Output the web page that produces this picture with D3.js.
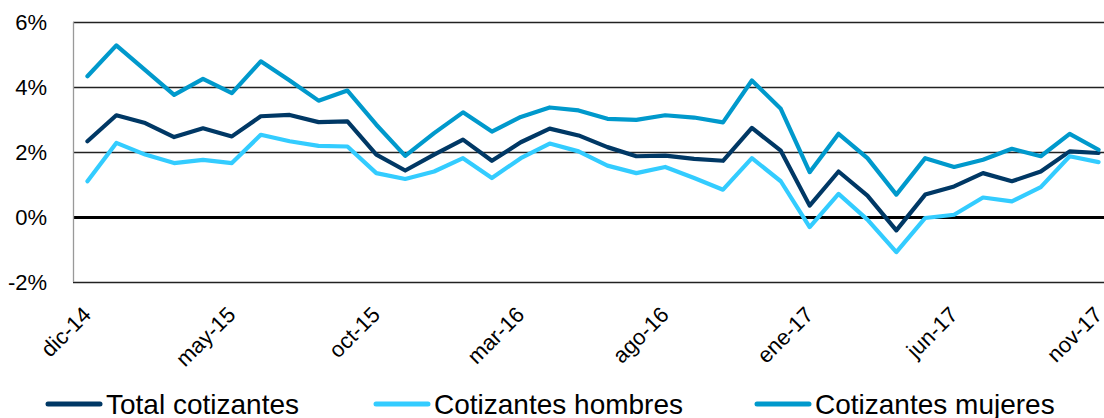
<!DOCTYPE html>
<html>
<head>
<meta charset="utf-8">
<script src="https://cdn.jsdelivr.net/npm/d3@7"></script>
<style>
  html, body { margin: 0; padding: 0; background: #fff; }
  svg { display: block; }
  text { font-family: "Liberation Sans", Arial, sans-serif; fill: #000; }
</style>
</head>
<body>
<svg id="chart" width="1104" height="418"></svg>
<script>
const months = [
  "dic-14","ene-15","feb-15","mar-15","abr-15","may-15","jun-15","jul-15","ago-15","sep-15","oct-15","nov-15",
  "dic-15","ene-16","feb-16","mar-16","abr-16","may-16","jun-16","jul-16","ago-16","sep-16","oct-16","nov-16",
  "dic-16","ene-17","feb-17","mar-17","abr-17","may-17","jun-17","jul-17","ago-17","sep-17","oct-17","nov-17"
];
const tickLabels = ["dic-14","may-15","oct-15","mar-16","ago-16","ene-17","jun-17","nov-17"];
const yTicks = [-2, 0, 2, 4, 6];

const seriesNames = ["Total cotizantes", "Cotizantes hombres", "Cotizantes mujeres"];
const total = [2.33,3.13,2.89,2.46,2.73,2.48,3.10,3.14,2.92,2.94,1.92,1.43,
               1.92,2.38,1.73,2.30,2.72,2.51,2.15,1.87,1.89,1.79,1.73,2.74,
               2.04,0.35,1.40,0.66,-0.41,0.69,0.94,1.35,1.10,1.40,2.02,1.97];
const hombres = [1.10,2.28,1.92,1.66,1.76,1.66,2.53,2.33,2.19,2.17,1.35,1.17,
                 1.40,1.81,1.20,1.81,2.26,2.02,1.58,1.35,1.54,1.20,0.84,1.81,
                 1.10,-0.31,0.71,-0.08,-1.08,-0.03,0.07,0.60,0.48,0.92,1.87,1.69];
const mujeres = [4.33,5.28,4.52,3.76,4.25,3.81,4.79,4.20,3.58,3.89,2.84,1.88,
                 2.58,3.22,2.63,3.08,3.37,3.28,3.02,2.99,3.13,3.06,2.91,4.20,
                 3.33,1.38,2.56,1.81,0.69,1.81,1.54,1.76,2.10,1.87,2.56,2.07];
const seriesColors = ["#003865", "#33CCFF", "#0099CC"];

const svg = d3.select("#chart");
const plot = { left: 73, right: 1113, top: 22, bottom: 282 };

const x = d3.scaleBand().domain(months).range([plot.left, plot.right]);
const cx = m => x(m) + x.bandwidth() / 2;
const y = d3.scaleLinear().domain([-2, 6]).range([plot.bottom, plot.top]);

// gridlines
svg.append("g").selectAll("line")
  .data(yTicks)
  .join("line")
  .attr("x1", plot.left).attr("x2", 1104)
  .attr("y1", d => Math.round(y(d)) + 0.5).attr("y2", d => Math.round(y(d)) + 0.5)
  .attr("stroke", d => d === 0 ? "#000" : "#222")
  .attr("stroke-width", d => d === 0 ? 3 : 1.3);

// left axis line
svg.append("line")
  .attr("x1", plot.left + 0.5).attr("x2", plot.left + 0.5)
  .attr("y1", plot.top).attr("y2", plot.bottom)
  .attr("stroke", "#999").attr("stroke-width", 1.3);

// y labels
svg.append("g").selectAll("text")
  .data(yTicks)
  .join("text")
  .attr("x", 47).attr("y", d => y(d) + 8)
  .attr("text-anchor", "end")
  .style("font-size", "22px")
  .text(d => d + "%");

// x labels
svg.append("g").selectAll("text")
  .data(tickLabels)
  .join("text")
  .attr("text-anchor", "end")
  .attr("transform", d => `translate(${cx(d) + 5},${316}) rotate(-45)`)
  .style("font-size", "22px")
  .text(d => d);

// lines
const allSeries = [total, hombres, mujeres];
const lineGen = d3.line().x((d, i) => cx(months[i])).y(d => y(d));
svg.append("g").selectAll("path")
  .data(allSeries)
  .join("path")
  .attr("d", d => lineGen(d))
  .attr("fill", "none")
  .attr("stroke", (d, i) => seriesColors[i])
  .attr("stroke-width", 4.2)
  .attr("stroke-linejoin", "round")
  .attr("stroke-linecap", "round");

// legend
const legendX = [48, 376, 757];
const lg = svg.append("g").selectAll("g")
  .data(seriesNames)
  .join("g")
  .attr("transform", (d, i) => `translate(${legendX[i]},404)`);
lg.append("line")
  .attr("x1", 0).attr("x2", 52).attr("y1", 0).attr("y2", 0)
  .attr("stroke", (d, i) => seriesColors[i])
  .attr("stroke-width", 5)
  .attr("stroke-linecap", "round");
lg.append("text")
  .attr("x", 58).attr("y", 10)
  .style("font-size", "28px")
  .text(d => d);
</script>
</body>
</html>
